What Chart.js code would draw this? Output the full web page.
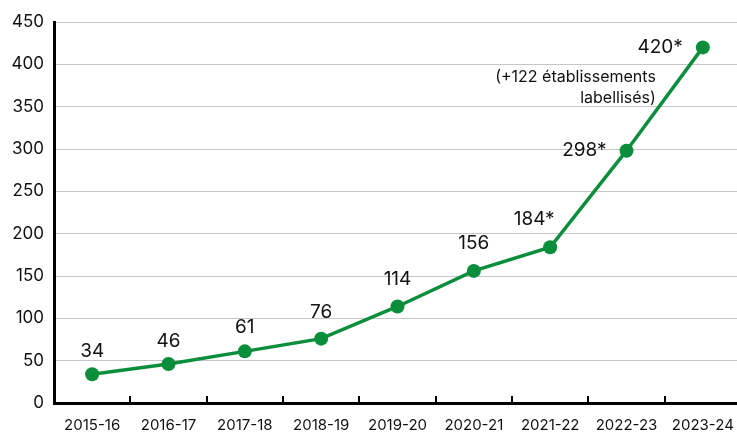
<!DOCTYPE html>
<html>
<head>
<meta charset="utf-8">
<script src="https://cdn.jsdelivr.net/npm/chart.js@4/dist/chart.umd.min.js"></script>
<style>
  html, body { margin: 0; padding: 0; background: #fff; overflow: hidden; }
  #wrap { width: 748px; height: 432px; position: relative; }
</style>
</head>
<body>
<div id="wrap"><canvas id="labelChart"></canvas></div>
<script>
// Données du graphique
const seasons = ['2015-16', '2016-17', '2017-18', '2018-19', '2019-20', '2020-21', '2021-22', '2022-23', '2023-24'];
const establishments = [34, 46, 61, 76, 114, 156, 184, 298, 420];
const markers = ['', '', '', '', '', '', '*', '*', '*'];
const yTicks = [0, 50, 100, 150, 200, 250, 300, 350, 400, 450];
const noteLines = ['(+122 établissements', 'labellisés)'];

// placement des étiquettes (dx, dy, alignement) - style uniquement
const labelPlacement = [
    [0, -23, 'center'], [0, -23, 'center'], [0, -24, 'center'], [0, -26, 'center'],
    [0, -27, 'center'], [0, -28, 'center'], [-16, -28, 'center'], [-20, 0, 'right'], [-20, 0, 'right']
];

const GREEN = '#0b8e3b';
const FONT = 'Inter, "Noto Sans", sans-serif';

// Petits traits entre les catégories, au-dessus de l'axe
const tickMarks = {
    id: 'tickMarks',
    afterDraw(chart) {
        const ctx = chart.ctx;
        const x = chart.scales.x;
        const bottom = chart.chartArea.bottom;
        ctx.save();
        ctx.strokeStyle = '#000';
        ctx.lineWidth = 2;
        for (let i = 1; i < seasons.length; i++) {
            const px = Math.round((x.getPixelForValue(i - 1) + x.getPixelForValue(i)) / 2);
            ctx.beginPath();
            ctx.moveTo(px, bottom - 7);
            ctx.lineTo(px, bottom);
            ctx.stroke();
        }
        ctx.restore();
    }
};

// Étiquettes de valeurs + note
const valueLabels = {
    id: 'valueLabels',
    afterDatasetsDraw(chart) {
        const ctx = chart.ctx;
        const meta = chart.getDatasetMeta(0);
        ctx.save();
        ctx.fillStyle = '#111';
        ctx.font = '19px ' + FONT;
        ctx.textBaseline = 'middle';
        meta.data.forEach((pt, i) => {
            const p = labelPlacement[i];
            ctx.textAlign = p[2];
            ctx.fillText(establishments[i] + markers[i], pt.x + p[0], pt.y + p[1]);
        });
        // note sous 420*
        const last = meta.data[meta.data.length - 1];
        ctx.font = '16px ' + FONT;
        ctx.textAlign = 'right';
        noteLines.forEach((line, j) => {
            ctx.fillText(line, last.x - 47, last.y + 30 + j * 21);
        });
        ctx.restore();
    }
};

new Chart(document.getElementById('labelChart'), {
    type: 'line',
    data: {
        labels: seasons,
        datasets: [{
            data: establishments,
            borderColor: GREEN,
            backgroundColor: GREEN,
            borderWidth: 3.5,
            pointRadius: 7,
            pointHoverRadius: 7,
            pointBackgroundColor: GREEN,
            pointBorderWidth: 0,
            tension: 0
        }]
    },
    options: {
        responsive: true,
        maintainAspectRatio: false,
        animation: false,
        layout: { padding: { top: 22, right: 0, left: 0, bottom: 0 } },
        plugins: {
            legend: { display: false },
            tooltip: { enabled: false }
        },
        scales: {
            x: {
                offset: true,
                grid: { display: false },
                border: { display: true, color: '#000', width: 3 },
                ticks: {
                    color: '#111',
                    padding: 5,
                    maxRotation: 0,
                    autoSkip: false,
                    font: { family: FONT, size: 15 }
                },
                afterFit(scale) { scale.height = 29; }
            },
            y: {
                min: 0,
                max: 450,
                afterBuildTicks(scale) { scale.ticks = yTicks.map(v => ({ value: v })); },
                grid: { color: '#c6c6c6', lineWidth: 1, drawTicks: false },
                border: { display: true, color: '#000', width: 3 },
                ticks: {
                    color: '#111',
                    padding: 10,
                    font: { family: FONT, size: 17 }
                },
                afterFit(scale) { scale.width = 54; }
            }
        }
    },
    plugins: [tickMarks, valueLabels]
});
</script>
</body>
</html>
